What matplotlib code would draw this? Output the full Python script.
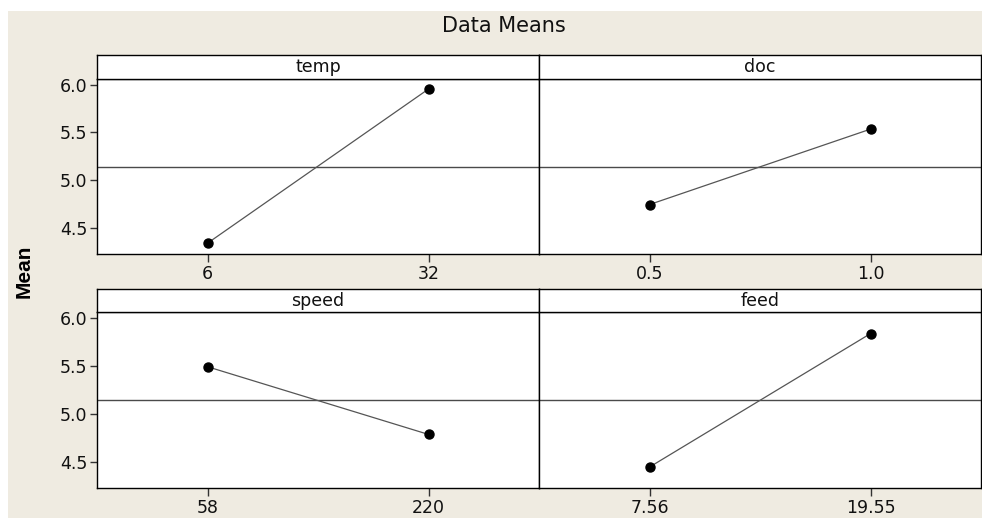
import matplotlib
matplotlib.use("Agg")
import matplotlib.pyplot as plt
from matplotlib.patches import Rectangle

# ---- data ----
factors = ["temp", "doc", "speed", "feed"]
levels = {
    "temp": ["6", "32"],
    "doc": ["0.5", "1.0"],
    "speed": ["58", "220"],
    "feed": ["7.56", "19.55"],
}
means = {
    "temp": [4.34, 5.955],
    "doc": [4.745, 5.535],
    "speed": [5.49, 4.785],
    "feed": [4.445, 5.835],
}
grand_mean = 5.14
yticks = [4.5, 5.0, 5.5, 6.0]
ylim = (4.227, 6.06)

W, H = 982, 518
fig = plt.figure(figsize=(W / 100, H / 100), dpi=100)
fig.patch.set_facecolor("white")
fig.patches.append(Rectangle((8 / W, 0), 1 - 8 / W, (H - 11) / H,
                             transform=fig.transFigure, facecolor="#efebe1",
                             edgecolor="none", zorder=-10))

def fx(px):
    return px / W

def fy(py):
    return 1 - py / H

cols = [(97, 539), (539, 981)]
rows = [(55, 79, 254), (289, 312, 488)]  # strip top, data top, data bottom

for i, name in enumerate(factors):
    r, c = divmod(i, 2)
    x0, x1 = cols[c]
    st, dt, db = rows[r]
    # data axes
    ax = fig.add_axes([fx(x0), fy(db), fx(x1) - fx(x0), fy(dt) - fy(db)])
    ax.set_facecolor("white")
    xs = list(range(len(levels[name])))
    ax.axhline(grand_mean, color="#4a4a4a", lw=1.0, zorder=1)
    ax.plot(xs, means[name], color="#555555", lw=0.9, zorder=2)
    ax.plot(xs, means[name], "o", color="black", ms=6.5, zorder=3)
    ax.set_xlim(-0.5, 1.5)
    ax.set_ylim(*ylim)
    ax.set_xticks(xs)
    ax.set_xticklabels(levels[name], fontsize=12.5, color="#111111")
    ax.tick_params(axis="x", length=6, width=1, pad=2, color="#333333")
    if c == 0:
        ax.set_yticks(yticks)
        ax.set_yticklabels([f"{v:.1f}" for v in yticks], fontsize=12.5, color="#111111")
        ax.tick_params(axis="y", length=5, width=1, pad=2, color="#333333")
    else:
        ax.set_yticks([])
    for s in ax.spines.values():
        s.set_color("black")
        s.set_linewidth(1.0)
    ax.spines["top"].set_color("#333333")
    # strip axes
    sx = fig.add_axes([fx(x0), fy(dt), fx(x1) - fx(x0), fy(st) - fy(dt)])
    sx.set_facecolor("white")
    sx.set_xticks([])
    sx.set_yticks([])
    for s in sx.spines.values():
        s.set_color("black")
        s.set_linewidth(1.0)
    sx.text(0.5, 0.5, name, ha="center", va="center", fontsize=12.5,
            transform=sx.transAxes, color="#111111")

fig.text(fx(503.7), fy(26.5), "Data Means", ha="center", va="center",
         fontsize=15, color="#111111")
fig.text(fx(24), fy(271), "Mean", ha="center", va="center", rotation=90,
         fontsize=15, fontweight="bold", family="Liberation Sans", color="black")

fig.savefig("out.png", dpi=100)
